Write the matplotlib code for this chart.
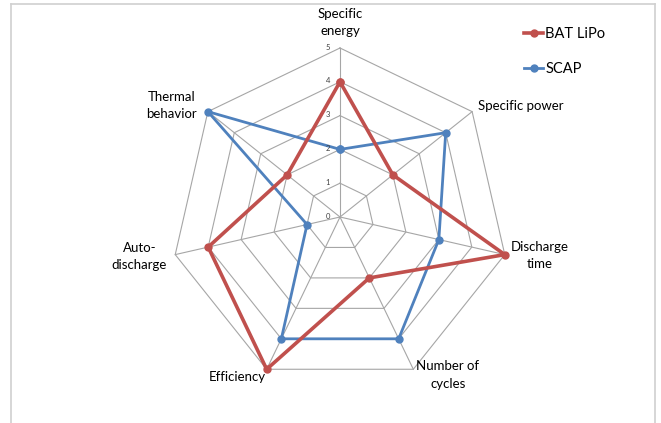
"""
Radar chart: LiPo battery vs supercapacitor, scored 0-5 on seven criteria.
"""

import numpy as np
import matplotlib
matplotlib.use("Agg")
import matplotlib.pyplot as plt
from matplotlib.lines import Line2D

# --- data -----------------------------------------------------------------
categories = [
    "Specific\nenergy",
    "Specific power",
    "Discharge\ntime",
    "Number of\ncycles",
    "Efficiency",
    "Auto-\ndischarge",
    "Thermal\nbehavior",
]
bat_lipo = [4, 2, 5, 2, 5, 4, 2]
scap = [2, 4, 3, 4, 4, 1, 5]
series_names = ["BAT LiPo", "SCAP"]
scale_ticks = [0, 1, 2, 3, 4, 5]

RED = "#C0504D"
BLUE = "#4F81BD"
GRID = "#A6A6A6"

plt.rcParams["font.family"] = ["Lato", "DejaVu Sans"]

W, H = 661, 423
fig = plt.figure(figsize=(W / 100, H / 100), dpi=100)
ax = fig.add_axes([0, 0, 1, 1])
ax.set_axis_off()

# centre of the radar and pixels per unit of score
cx, cy = 340, 217
unit = 169 / max(scale_ticks)
ax.set_xlim(-cx / unit, (W - cx) / unit)
ax.set_ylim(-(H - cy) / unit, cy / unit)

n = len(categories)
theta = np.arange(n) * 2 * np.pi / n  # clockwise from the top


def to_xy(r):
    r = np.asarray(r, dtype=float)
    return r * np.sin(theta), r * np.cos(theta)


def closed(a):
    return np.append(a, a[0])


# heptagon grid and spokes
for t in scale_ticks[1:]:
    gx, gy = to_xy([t] * n)
    ax.plot(closed(gx), closed(gy), color=GRID, lw=0.8, zorder=1)
sx, sy = to_xy([scale_ticks[-1]] * n)
for x, y in zip(sx, sy):
    ax.plot([0, x], [0, y], color=GRID, lw=0.8, zorder=1)

# scale labels along the first spoke
for t in scale_ticks:
    ax.annotate(str(t), (0, t), xytext=(-12, 1), textcoords="offset pixels",
                ha="center", va="center", fontsize=5.5, color="#404040")

# series
for vals, col, lw in [(bat_lipo, RED, 2.6), (scap, BLUE, 2.0)]:
    x, y = to_xy(vals)
    ax.plot(closed(x), closed(y), color=col, lw=lw, marker="o", ms=5,
            zorder=3 if col == RED else 2)

# category labels (offsets in pixels from each outer vertex)
label_pos = [
    ((0, 11), "center", "bottom"),
    ((6, 6), "left", "center"),
    ((6, -1), "left", "center"),
    ((3, 9), "left", "top"),
    ((-1, -2), "right", "top"),
    ((-8, -2), "right", "center"),
    ((-11, 6), "right", "center"),
]
for (lbl, (xo, yo), ha, va), x, y in zip(
        [(c, *p) for c, p in zip(categories, label_pos)], sx, sy):
    ax.annotate(lbl, (x, y), xytext=(xo, yo), textcoords="offset pixels",
                ha=ha, va=va, fontsize=9.5, color="black", linespacing=1.55,
                multialignment="center")

# legend
handles = [Line2D([], [], color=RED, lw=2.6, marker="o", ms=5),
           Line2D([], [], color=BLUE, lw=2.0, marker="o", ms=5)]
fig.legend(handles, series_names, loc="upper left",
           bbox_to_anchor=(511 / W, 1 - 14 / H), frameon=False,
           fontsize=10.5, handlelength=1.3, handletextpad=0.15,
           labelspacing=1.45)

# chart frame
fr = dict(color="#D0D0D0", lw=1.2, transform=fig.transFigure)
fig.add_artist(Line2D([11 / W, 655 / W], [1 - 4 / H, 1 - 4 / H], **fr))
fig.add_artist(Line2D([11 / W, 11 / W], [0, 1 - 4 / H], **fr))
fig.add_artist(Line2D([655 / W, 655 / W], [0, 1 - 4 / H], **fr))

fig.savefig("out.png", dpi=100)
plt.close(fig)
